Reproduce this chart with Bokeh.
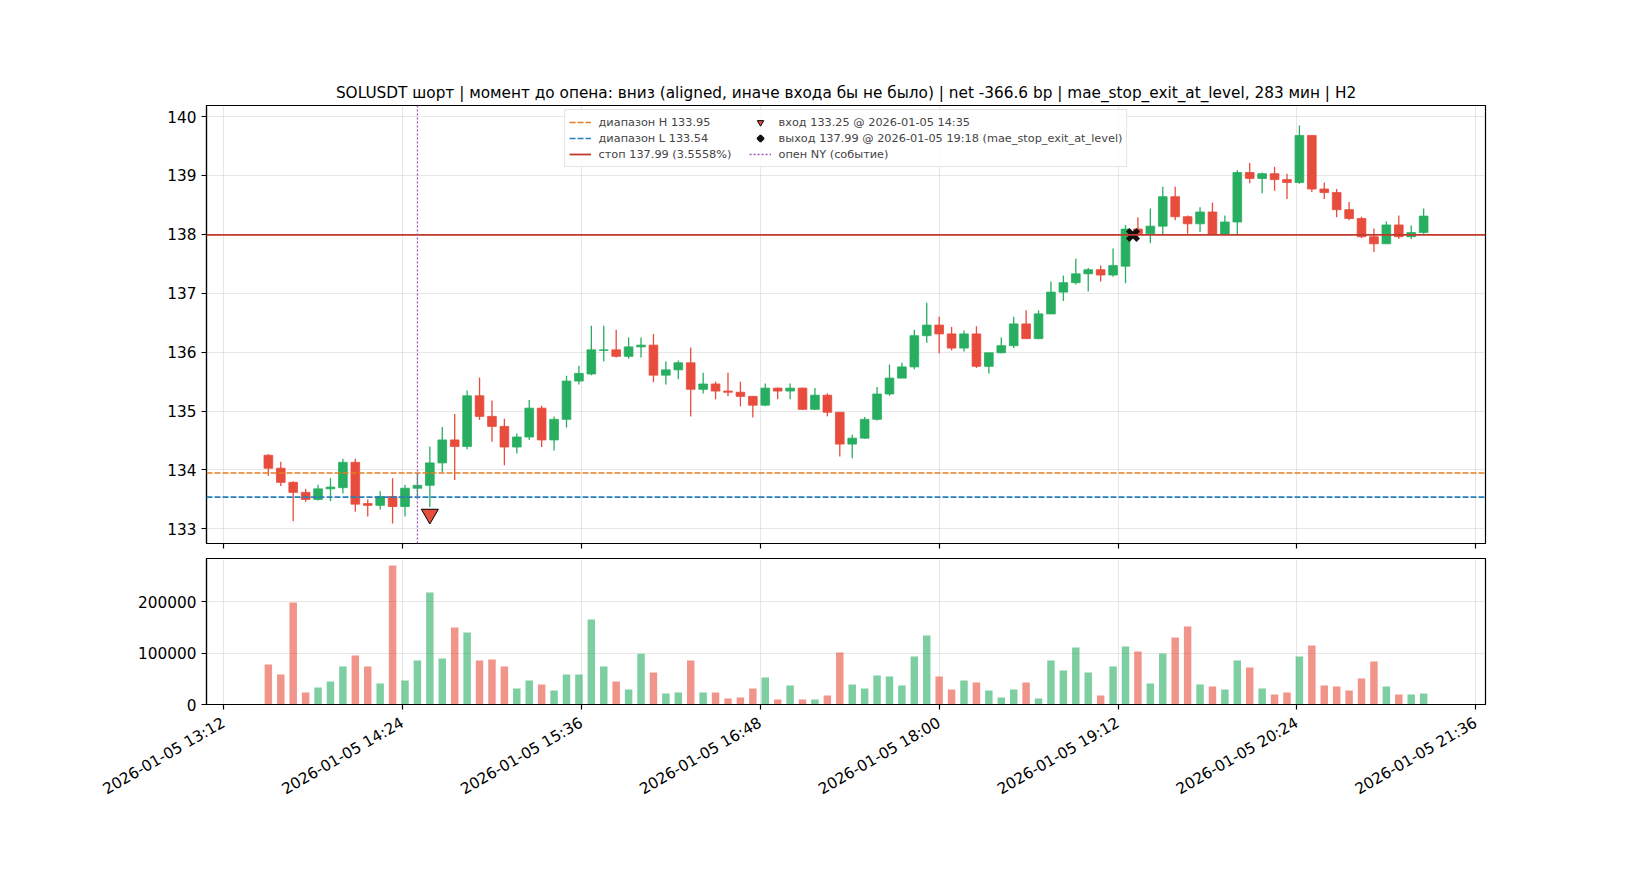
import math
import pandas as pd
from bokeh.plotting import figure
from bokeh.models import (Range1d, Span, Legend, LegendItem, FixedTicker,
                          DatetimeTickFormatter, BasicTickFormatter, ColumnDataSource)
from bokeh.layouts import column
from bokeh.embed import file_html
from bokeh.resources import INLINE

# ---------------- data ----------------
symbol = "SOLUSDT"
start_time = "2026-01-05 13:30"
bar_minutes = 5

opens = [134.25, 134.03, 133.79, 133.62, 133.50, 133.68, 133.70, 134.13, 133.43, 133.40,
         133.55, 133.38, 133.69, 133.74, 134.12, 134.51, 134.40, 135.26, 134.91, 134.74,
         134.39, 134.56, 135.05, 134.51, 134.86, 135.51, 135.63, 136.03, 136.04, 135.93,
         136.09, 136.12, 135.61, 135.70, 135.82, 135.37, 135.46, 135.34, 135.32, 135.25,
         135.10, 135.39, 135.34, 135.39, 135.03, 135.27, 134.98, 134.44, 134.54, 134.86,
         135.29, 135.56, 135.75, 136.28, 136.46, 136.31, 136.07, 136.31, 135.76, 135.99,
         136.11, 136.48, 136.23, 136.65, 137.02, 137.18, 137.33, 137.40, 137.31, 137.46,
         138.09, 138.01, 138.14, 138.64, 138.30, 138.18, 138.38, 138.00, 138.21, 139.05,
         138.95, 139.03, 138.93, 138.88, 139.68, 138.77, 138.71, 138.42, 138.27, 137.96,
         137.84, 138.16, 137.96, 138.03]
highs = [134.27, 134.14, 133.81, 133.68, 133.75, 133.86, 134.19, 134.19, 133.50, 133.64,
         133.86, 133.75, 133.95, 134.40, 134.73, 134.95, 135.35, 135.57, 135.18, 134.87,
         134.62, 135.19, 135.09, 134.91, 135.60, 135.77, 136.45, 136.45, 136.38, 136.25,
         136.25, 136.31, 135.84, 135.86, 136.08, 135.65, 135.50, 135.65, 135.50, 135.25,
         135.47, 135.40, 135.47, 135.40, 135.39, 135.30, 134.98, 134.60, 134.90, 135.41,
         135.79, 135.82, 136.38, 136.84, 136.60, 136.43, 136.37, 136.44, 135.99, 136.25,
         136.60, 136.71, 136.71, 137.20, 137.30, 137.59, 137.43, 137.47, 137.76, 138.16,
         138.29, 138.44, 138.81, 138.81, 138.32, 138.46, 138.54, 138.32, 139.09, 139.21,
         139.05, 139.15, 139.03, 139.85, 139.68, 138.88, 138.77, 138.55, 138.30, 138.10,
         138.22, 138.32, 138.15, 138.44]
lows = [133.90, 133.73, 133.13, 133.46, 133.48, 133.47, 133.60, 133.29, 133.21, 133.33,
        133.09, 133.21, 133.55, 133.37, 133.96, 133.83, 134.35, 134.85, 134.48, 134.08,
        134.28, 134.51, 134.39, 134.33, 134.72, 135.45, 135.61, 135.84, 135.91, 135.89,
        135.91, 135.49, 135.45, 135.54, 134.91, 135.30, 135.20, 135.25, 135.08, 134.89,
        135.08, 135.20, 135.20, 135.02, 135.02, 134.91, 134.23, 134.20, 134.53, 134.84,
        135.26, 135.56, 135.71, 136.16, 135.98, 136.03, 136.01, 135.73, 135.64, 135.98,
        136.07, 136.23, 136.22, 136.65, 136.87, 137.15, 137.03, 137.20, 137.28, 137.17,
        137.97, 137.85, 137.99, 138.24, 138.01, 138.04, 138.00, 138.00, 138.00, 138.87,
        138.70, 138.74, 138.60, 138.86, 138.72, 138.60, 138.29, 138.24, 137.94, 137.70,
        137.84, 137.92, 137.92, 138.01]
closes = [134.03, 133.79, 133.62, 133.50, 133.68, 133.71, 134.13, 133.42, 133.40, 133.55,
          133.38, 133.69, 133.74, 134.12, 134.51, 134.40, 135.26, 134.91, 134.74, 134.39,
          134.56, 135.05, 134.51, 134.86, 135.51, 135.64, 136.04, 136.04, 135.93, 136.09,
          136.12, 135.61, 135.70, 135.82, 135.37, 135.46, 135.34, 135.32, 135.25, 135.10,
          135.39, 135.34, 135.39, 135.03, 135.27, 134.98, 134.44, 134.54, 134.86, 135.29,
          135.56, 135.75, 136.28, 136.46, 136.31, 136.07, 136.31, 135.76, 135.99, 136.11,
          136.48, 136.23, 136.65, 137.02, 137.18, 137.33, 137.40, 137.31, 137.47, 138.09,
          138.01, 138.14, 138.64, 138.30, 138.18, 138.38, 138.00, 138.21, 139.05, 138.95,
          139.03, 138.93, 138.88, 139.68, 138.77, 138.71, 138.42, 138.27, 137.96, 137.84,
          138.16, 137.96, 138.03, 138.31]
volumes = [78000, 58400, 198700, 23400, 33100, 44800, 74000, 95500, 74000, 40900,
           270800, 46800, 85700, 218200, 89600, 150000, 140300, 85700, 87700, 74000,
           31200, 46800, 39000, 27300, 58400, 58400, 165600, 74000, 44800, 29200,
           98700, 62300, 21400, 23400, 85700, 23400, 23400, 11700, 13600, 31200,
           52600, 9700, 37000, 9700, 9700, 17500, 101300, 39000, 31200, 56500,
           54500, 37000, 93500, 134400, 54500, 29200, 46800, 42900, 27300, 13600,
           29200, 42900, 11700, 85700, 66200, 111000, 62300, 17500, 74000, 113000,
           103300, 40900, 99400, 130500, 152000, 39000, 35100, 29200, 85700, 72100,
           31200, 19500, 23400, 93500, 114900, 37000, 35100, 27300, 50700, 83800,
           35100, 19500, 19500, 21400]

x_tick_labels = ["2026-01-05 13:12", "2026-01-05 14:24", "2026-01-05 15:36", "2026-01-05 16:48",
                 "2026-01-05 18:00", "2026-01-05 19:12", "2026-01-05 20:24", "2026-01-05 21:36"]
price_ticks = [133, 134, 135, 136, 137, 138, 139, 140]
volume_ticks = [0, 100000, 200000]

range_high = 133.95
range_low = 133.54
stop_level = 137.99
stop_pct = 3.5558
entry_price = 133.25
entry_time = "2026-01-05 14:35"
exit_price = 137.99
exit_time = "2026-01-05 19:18"
exit_reason = "mae_stop_exit_at_level"
ny_open_time = "2026-01-05 14:30"
net_bp = -366.6
hold_minutes = 283

# ---------------- styling ----------------
GREEN = "#27ae60"
RED = "#e74c3c"
ORANGE = "#e67e22"
BLUE = "#2980b9"
STOP = "#c0392b"
PURPLE = "#9b59b6"
FONT = "DejaVu Sans"
TICK_FS = "15.3px"
NAN = float("nan")


def ms(ts):
    return pd.Timestamp(ts).value / 1e6


times = pd.date_range(start_time, periods=len(opens), freq=f"{bar_minutes}min")
t = [ts.value / 1e6 for ts in times]
colors = [GREEN if c >= o else RED for o, c in zip(opens, closes)]
src = ColumnDataSource(dict(
    t=t, open=opens, high=highs, low=lows, close=closes,
    top=[max(o, c) for o, c in zip(opens, closes)],
    bottom=[min(o, c) for o, c in zip(opens, closes)],
    color=colors, volume=volumes))

minute = 60_000
body_w = 0.7 * bar_minutes * minute
vol_w = 0.6 * bar_minutes * minute
x0 = t[0] - 0.3 * bar_minutes * minute
x1 = t[-1] + 0.3 * bar_minutes * minute
xpad = 0.05 * (x1 - x0)
xr = Range1d(x0 - xpad, x1 + xpad)

ylo, yhi = min(lows), max(highs)
ypad = 0.05 * (yhi - ylo)
yr = Range1d(ylo - ypad, yhi + ypad)

title_text = (f"{symbol} шорт | момент до опена: вниз (aligned, иначе входа бы не было) | "
              f"net {net_bp} bp | {exit_reason}, {hold_minutes} мин | H2")

p = figure(x_axis_type="datetime", x_range=xr, y_range=yr,
           frame_width=1279, frame_height=438,
           min_border_left=206, min_border_right=150, min_border_top=105, min_border_bottom=15,
           output_backend="svg", toolbar_location=None, title=title_text)

v = figure(x_axis_type="datetime", x_range=xr, y_range=Range1d(0, max(volumes) * 1.05),
           frame_width=1279, frame_height=146,
           min_border_left=206, min_border_right=150, min_border_top=0, min_border_bottom=100,
           output_backend="svg", toolbar_location=None)

tick_ms = [ms(s) for s in x_tick_labels]
fmt = "%Y-%m-%d %H:%M"
dt_fmt = DatetimeTickFormatter(milliseconds=fmt, seconds=fmt, minsec=fmt, minutes=fmt,
                               hourmin=fmt, hours=fmt, days=fmt, months=fmt, years=fmt)


def style(fig, yticks):
    fig.background_fill_color = "white"
    fig.border_fill_color = "white"
    fig.outline_line_color = "black"
    fig.outline_line_width = 1.2
    for ax in fig.axis:
        ax.axis_line_color = "black"
        ax.axis_line_width = 1.2
        ax.major_tick_line_color = "black"
        ax.major_tick_line_width = 1.2
        ax.major_tick_out = 5
        ax.major_tick_in = 0
        ax.minor_tick_line_color = None
        ax.major_label_text_font = FONT
        ax.major_label_text_font_size = TICK_FS
        ax.major_label_text_color = "black"
        ax.major_label_standoff = 5
    fig.xaxis.ticker = FixedTicker(ticks=tick_ms)
    fig.xaxis.formatter = dt_fmt
    fig.yaxis.ticker = FixedTicker(ticks=yticks)
    fig.xgrid.ticker = FixedTicker(ticks=tick_ms)
    fig.ygrid.ticker = FixedTicker(ticks=yticks)
    fig.grid.grid_line_color = "#b0b0b0"
    fig.grid.grid_line_alpha = 0.3
    fig.grid.grid_line_width = 1.1


style(p, price_ticks)
style(v, volume_ticks)

# main x-axis: tick marks only (labels shown under the volume panel)
p.xaxis.major_label_text_font_size = "0px"
p.xaxis.major_label_text_color = None
p.xaxis.major_label_standoff = 0
v.yaxis.formatter = BasicTickFormatter(use_scientific=False)
v.xaxis.major_label_orientation = math.pi / 6
v.xaxis.major_label_standoff = 12

p.title.text_font = FONT
p.title.text_font_size = "15.3px"
p.title.text_font_style = "normal"
p.title.align = "center"
p.title.text_color = "black"
p.title.standoff = 7

# candles
p.segment(x0="t", y0="high", x1="t", y1="low", line_color="color", line_width=1.3, source=src)
p.vbar(x="t", width=body_w, top="top", bottom="bottom", fill_color="color",
       line_color="color", line_width=0.8, source=src)

# levels
p.add_layout(Span(location=range_high, dimension="width", line_color=ORANGE,
                  line_dash="6 2", line_width=1.6))
p.add_layout(Span(location=range_low, dimension="width", line_color=BLUE,
                  line_dash="6 2", line_width=1.6))
p.add_layout(Span(location=stop_level, dimension="width", line_color=STOP, line_width=1.8))
p.add_layout(Span(location=ms(ny_open_time), dimension="height", line_color=PURPLE,
                  line_dash="2 2", line_width=1.3))

# legend proxies (not visible in the plot area)
r_h = p.line(x=[NAN], y=[NAN], line_color=ORANGE, line_dash="6 2", line_width=1.6)
r_l = p.line(x=[NAN], y=[NAN], line_color=BLUE, line_dash="6 2", line_width=1.6)
r_s = p.line(x=[NAN], y=[NAN], line_color=STOP, line_width=1.8)
r_ny = p.line(x=[NAN], y=[NAN], line_color=PURPLE, line_dash="2 2", line_width=1.3)

r_entry = p.scatter(x=[ms(entry_time)], y=[entry_price], marker="inverted_triangle", size=17,
                    fill_color=RED, line_color="black", line_width=1)
r_exit = p.scatter(x=[ms(exit_time)], y=[exit_price], marker="x", size=15,
                   line_color="#111111", line_width=5)

legend = Legend(items=[
    LegendItem(label=f"диапазон H {range_high:.2f}", renderers=[r_h]),
    LegendItem(label=f"диапазон L {range_low:.2f}", renderers=[r_l]),
    LegendItem(label=f"стоп {stop_level:.2f} ({stop_pct}%)", renderers=[r_s]),
    LegendItem(label=f"вход {entry_price:.2f} @ {entry_time}", renderers=[r_entry]),
    LegendItem(label=f"выход {exit_price:.2f} @ {exit_time} ({exit_reason})", renderers=[r_exit]),
    LegendItem(label="опен NY (событие)", renderers=[r_ny]),
], location="top_center", ncols=2)
legend.label_text_font = FONT
legend.label_text_font_size = "11.3px"
legend.glyph_width = 22
legend.glyph_height = 16
legend.label_height = 16
legend.label_width = 150
legend.label_standoff = 8
legend.spacing = 0
legend.padding = 4
legend.margin = 4
legend.border_line_color = "#cccccc"
legend.border_line_width = 1
legend.background_fill_alpha = 0.85
p.add_layout(legend)

# volume
v.vbar(x="t", width=vol_w, top="volume", bottom=0, fill_color="color", fill_alpha=0.6,
       line_color=None, source=src)

layout = column(p, v)
open("out.html", "w").write(file_html(layout, INLINE))
